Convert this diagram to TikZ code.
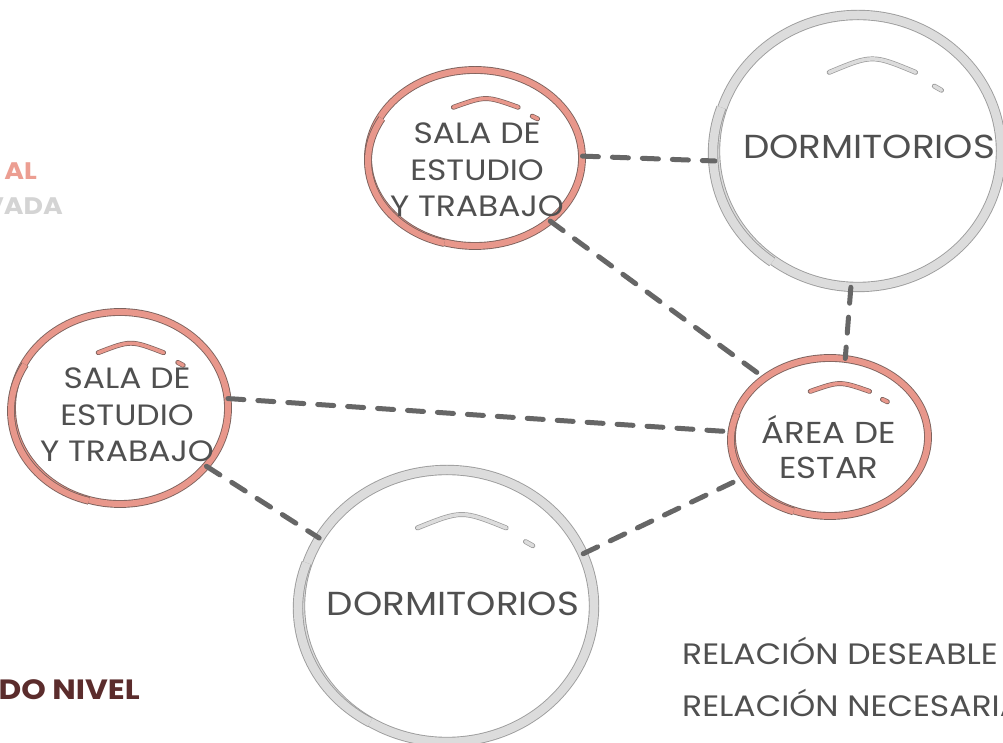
\documentclass[tikz,border=0pt]{standalone}
\usepackage{fontspec}
\setmainfont{Poppins}[FakeStretch=1.12]
\usetikzlibrary{shapes.geometric}
\definecolor{txt}{HTML}{505050}
\definecolor{pinkband}{HTML}{E8978B}
\definecolor{pinkedge}{HTML}{7D625D}
\definecolor{grayband}{HTML}{DCDCDC}
\definecolor{grayedge}{HTML}{9C9C9C}
\definecolor{conn}{HTML}{666666}
\definecolor{titlepink}{HTML}{EC9E92}
\definecolor{titlegray}{HTML}{D4D4D4}
\definecolor{titlebrown}{HTML}{5B2C2C}
\tikzset{
  ringpink/.style={draw=pinkedge, line width=0.9bp, double=pinkband, double distance=6bp},
  ringgray/.style={draw=grayedge, line width=0.9bp, double=grayband, double distance=8.5bp},
  shinepink/.style={draw=pinkedge, line width=0.7bp, double=pinkband, double distance=3.5bp, line cap=round},
  shinegray/.style={draw=grayedge, line width=0.7bp, double=grayband, double distance=3.5bp, line cap=round},
  room/.style={ellipse, inner sep=0pt},
  roomtext/.style={text=txt, align=center, inner sep=0pt},
  link/.style={draw=conn, line width=5bp, line cap=round, dash pattern=on 16bp off 14bp},
  sidetitle/.style={anchor=base east, inner sep=0pt, font=\bfseries\fontsize{24}{28}\selectfont},
  legendtext/.style={anchor=base west, inner sep=0pt, text=txt, font=\fontsize{29.6}{34}\selectfont},
}
\newcommand\shine[5]{%
  \draw[#5] ({#1-0.2*#3},{#2+0.57*#4}) .. controls ({#1+0.1*#3},{#2+0.70*#4}) .. ({#1+0.4*#3},{#2+0.57*#4});
  \draw[#5] ({#1+0.53*#3},{#2+0.47*#4}) -- ({#1+0.58*#3},{#2+0.44*#4});
}
\newcommand\sketcharc[7]{%
  \draw[#7] ({#1+#3*cos(#5)},{#2+#4*sin(#5)}) arc[start angle=#5, end angle=#6, x radius=#3, y radius=#4];
}
\begin{document}
\begin{tikzpicture}[x=1bp, y=1bp]
\useasboundingbox (0,0) rectangle (1003,743);
\fill[white] (0,0) rectangle (1003,743);

% rings
\node[room, ringpink, minimum width=214bp, minimum height=176bp] (sala1) at (475,585) {};
\node[room, ringgray, minimum width=286bp, minimum height=272bp] (dorm1) at (858,592) {};
\node[room, ringpink, minimum width=196bp, minimum height=158bp] (area) at (830,306) {};
\node[room, ringpink, minimum width=216bp, minimum height=192bp] (sala2) at (120,335) {};
\node[room, ringgray, minimum width=294bp, minimum height=272bp] (dorm2) at (447,137) {};

% sketchy extra strokes
\sketcharc{471}{582}{103}{85}{150}{255}{ringpink}
\sketcharc{852}{590}{139}{133}{160}{235}{ringgray}
\sketcharc{826}{303}{95}{76}{160}{250}{ringpink}
\sketcharc{116}{332}{105}{93}{150}{255}{ringpink}
\sketcharc{442}{135}{144}{132}{160}{240}{ringgray}

% highlights
\shine{475}{585}{108}{89}{shinepink}
\shine{858}{592}{144}{138}{shinegray}
\shine{830}{306}{99}{80}{shinepink}
\shine{120}{335}{109}{97}{shinepink}
\shine{447}{137}{148}{137}{shinegray}

% texts
\node[roomtext, font=\fontsize{29.5}{36.5}\selectfont] (t1) at (477,573) {SALA DE\\ESTUDIO\\Y TRABAJO};
\node[roomtext, font=\fontsize{33.4}{40}\selectfont] (t2) at (869,596) {DORMITORIOS};
\node[roomtext, font=\fontsize{30.4}{35}\selectfont] (t3) at (829,296) {ÁREA DE\\ESTAR};
\node[roomtext, font=\fontsize{29.5}{36.5}\selectfont] (t4) at (127,328) {SALA DE\\ESTUDIO\\Y TRABAJO};
\node[roomtext, font=\fontsize{33.4}{40}\selectfont] (t5) at (453,139) {DORMITORIOS};

% connectors
\draw[link] (sala1.1) -- (dorm1.184);
\draw[link] (sala1.-40) -- (area.138);
\draw[link] (dorm1.267) -- (area.79);
\draw[link] (sala2.5) -- (area.177);
\draw[link] (sala2.-34) -- (dorm2.152);
\draw[link] (dorm2.21) -- (area.205);

% side titles (cut by the page edge, as in the reference)
\node[sidetitle, text=titlepink] (s1) at (37,563) {AL};
\node[sidetitle, text=titlegray] (s2) at (63,528) {VADA};
\node[sidetitle, text=titlebrown, font=\bfseries\fontsize{28}{32}\selectfont] (s3) at (140,43) {DO NIVEL};

% legend
\node[legendtext] (l1) at (682,78) {RELACIÓN DESEABLE};
\node[legendtext] (l2) at (682,26) {RELACIÓN NECESARIA};
\end{tikzpicture}
\end{document}
